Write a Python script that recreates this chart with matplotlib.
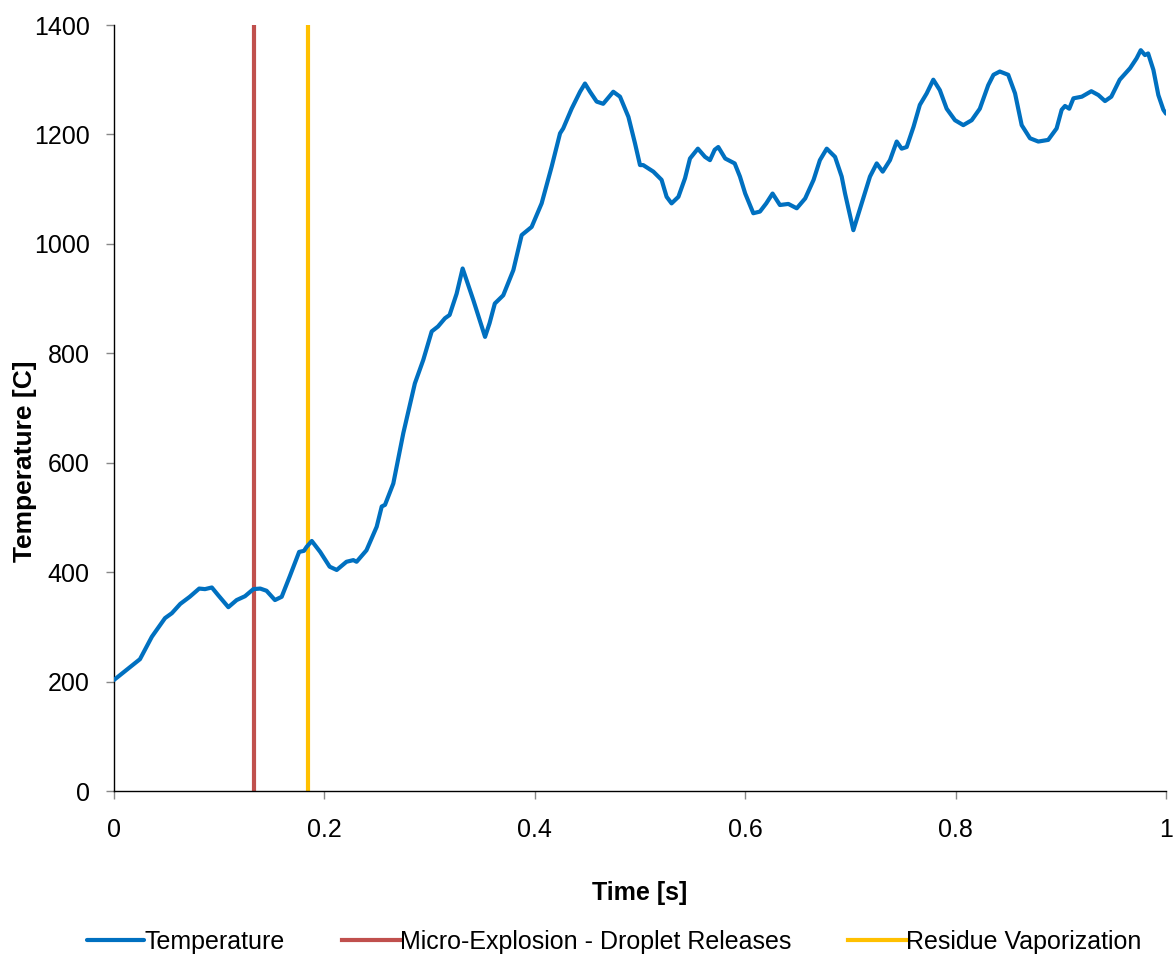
import matplotlib
matplotlib.use("Agg")
import matplotlib.pyplot as plt

plt.rcParams['font.family'] = ['Liberation Sans', 'DejaVu Sans']

time_s = [0.0, 0.0247, 0.036, 0.0485, 0.055, 0.063, 0.072, 0.081, 0.0865, 0.093, 0.099,
          0.1087, 0.1166, 0.1245, 0.1325, 0.139, 0.145, 0.153, 0.1594, 0.167, 0.176,
          0.1806, 0.183, 0.188, 0.196, 0.205, 0.2117, 0.221, 0.2275, 0.2306, 0.240,
          0.2497, 0.2545, 0.2576, 0.2655, 0.275, 0.286, 0.294, 0.302, 0.308, 0.3146,
          0.319, 0.3257, 0.3314, 0.3416, 0.3527, 0.357, 0.362, 0.370, 0.3796, 0.3875,
          0.397, 0.4065, 0.416, 0.424, 0.427, 0.435, 0.443, 0.4477, 0.4525, 0.4588,
          0.465, 0.4746, 0.481, 0.489, 0.4952, 0.500, 0.503, 0.5127, 0.5205, 0.5253,
          0.530, 0.5365, 0.5428, 0.5475, 0.555, 0.5618, 0.5665, 0.571, 0.5744, 0.581,
          0.590, 0.595, 0.600, 0.6077, 0.614, 0.620, 0.626, 0.633, 0.641, 0.649, 0.657,
          0.665, 0.671, 0.6775, 0.6854, 0.6917, 0.6949, 0.7028, 0.7107, 0.7186, 0.725,
          0.7307, 0.7376, 0.744, 0.7487, 0.7535, 0.760, 0.766, 0.7725, 0.7788, 0.785,
          0.7915, 0.7994, 0.8073, 0.8153, 0.823, 0.831, 0.836, 0.842, 0.850, 0.8565,
          0.8628, 0.8707, 0.8786, 0.888, 0.896, 0.9008, 0.904, 0.908, 0.912, 0.920,
          0.929, 0.9357, 0.942, 0.948, 0.956, 0.9658, 0.972, 0.976, 0.980, 0.983, 0.988,
          0.9927, 0.9975, 1.0]
temperature = [203, 241, 282, 316, 325, 342, 355, 370, 369, 372, 358,
               336, 349, 356, 369, 370, 366, 349, 355, 392, 437,
               439, 446, 457, 437, 410, 404, 419, 422, 419, 440,
               483, 520, 523, 562, 654, 745, 788, 840, 849, 864,
               870, 909, 955, 897, 830, 855, 891, 906, 952, 1016,
               1031, 1074, 1141, 1202, 1211, 1247, 1278, 1293, 1278, 1260,
               1256, 1278, 1269, 1232, 1184, 1144, 1144, 1132, 1117, 1086,
               1074, 1086, 1120, 1156, 1174, 1159, 1153, 1172, 1177, 1156,
               1147, 1123, 1092, 1056, 1059, 1074, 1092, 1071, 1073, 1065, 1083,
               1117, 1153, 1174, 1159, 1123, 1092, 1025, 1074, 1123, 1147,
               1132, 1153, 1187, 1174, 1177, 1214, 1254, 1275, 1300, 1281,
               1247, 1226, 1217, 1226, 1247, 1290, 1309, 1315, 1309, 1275,
               1217, 1193, 1187, 1190, 1211, 1245, 1252, 1247, 1266, 1269,
               1279, 1272, 1261, 1269, 1300, 1321, 1339, 1354, 1345, 1348, 1318,
               1272, 1245, 1238]

micro_explosion_t = 0.133
residue_vaporization_t = 0.1844

x_ticks = [0, 0.2, 0.4, 0.6, 0.8, 1]
x_tick_labels = ['0', '0.2', '0.4', '0.6', '0.8', '1']
y_ticks = [0, 200, 400, 600, 800, 1000, 1200, 1400]

fig = plt.figure(figsize=(11.74, 9.58), dpi=100)
ax = fig.add_axes([0.0971, 0.1743, 0.8961, 0.7996])

ax.plot(time_s, temperature, color='#0070C0', lw=3.0, label='Temperature',
        solid_joinstyle='round', solid_capstyle='round', zorder=3)
ax.axvline(micro_explosion_t, color='#C0504D', lw=3.0,
           label='Micro-Explosion - Droplet Releases', zorder=2)
ax.axvline(residue_vaporization_t, color='#FFC000', lw=3.0,
           label='Residue Vaporization', zorder=2)

ax.set_xlim(0, 1)
ax.set_ylim(0, 1400)
ax.set_xticks(x_ticks)
ax.set_xticklabels(x_tick_labels)
ax.set_yticks(y_ticks)

for s in ['top', 'right']:
    ax.spines[s].set_visible(False)
for s in ['left', 'bottom']:
    ax.spines[s].set_color('black')
    ax.spines[s].set_linewidth(1.0)

ax.tick_params(axis='both', direction='out', length=5.5, width=1, color='#888888',
               labelsize=18)
ax.tick_params(axis='y', pad=12)
ax.tick_params(axis='x', pad=14)

ax.set_xlabel('Time [s]', fontsize=18, fontweight='bold', labelpad=28)
ax.set_ylabel('Temperature [C]', fontsize=19, fontweight='bold')
ax.yaxis.set_label_coords(-0.0735, 0.431)

fig.legend(loc='center', bbox_to_anchor=(0.523, 1 - 942 / 958), ncol=3, frameon=False,
           fontsize=18, handlelength=2.3, handletextpad=0.0, columnspacing=2.3)

fig.savefig('out.png', dpi=100)
